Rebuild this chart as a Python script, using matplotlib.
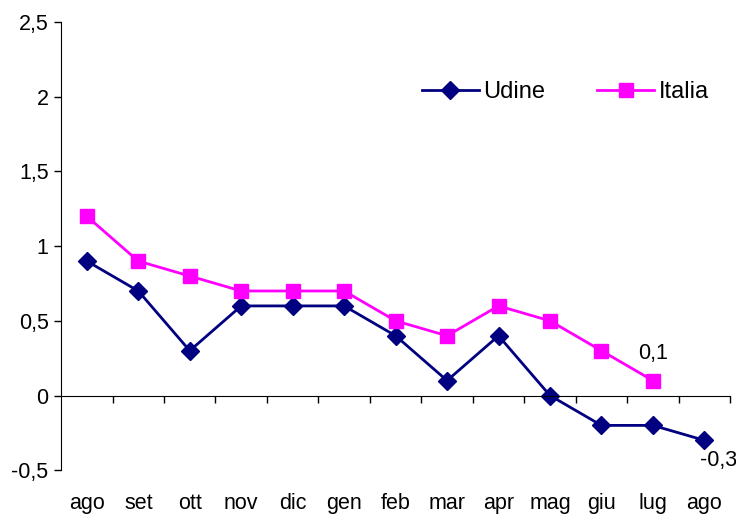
import matplotlib.pyplot as plt
from matplotlib.ticker import FuncFormatter
from matplotlib.transforms import blended_transform_factory

plt.rcParams['font.family'] = ['Liberation Sans', 'DejaVu Sans']

mesi = ['ago', 'set', 'ott', 'nov', 'dic', 'gen', 'feb', 'mar', 'apr', 'mag', 'giu', 'lug', 'ago']
udine = [0.9, 0.7, 0.3, 0.6, 0.6, 0.6, 0.4, 0.1, 0.4, 0.0, -0.2, -0.2, -0.3]
italia = [1.2, 0.9, 0.8, 0.7, 0.7, 0.7, 0.5, 0.4, 0.6, 0.5, 0.3, 0.1]

fig = plt.figure(figsize=(7.36, 5.15), dpi=100)
ax = fig.add_axes([0.083, 0.087, 0.909, 0.870])

x_u = list(range(len(udine)))
x_i = list(range(len(italia)))
ax.plot(x_u, udine, color='#000080', lw=2, marker='D', ms=9, label='Udine')
ax.plot(x_i, italia, color='#FF00FF', lw=2, marker='s', ms=10, label='Italia')

ax.set_xlim(-0.5, len(mesi) - 0.5)
ax.set_ylim(-0.5, 2.5)
ax.set_yticks([-0.5, 0, 0.5, 1, 1.5, 2, 2.5])
ax.yaxis.set_major_formatter(FuncFormatter(lambda v, p: ('%g' % v).replace('.', ',')))
ax.tick_params(axis='y', direction='out', length=5, labelsize=15.5, width=1, pad=4)

for s in ['top', 'right']:
    ax.spines[s].set_visible(False)
ax.spines['bottom'].set_position(('data', 0))
ax.set_xticks([i + 0.5 for i in range(len(mesi))])
ax.set_xticklabels([])
ax.tick_params(axis='x', direction='out', length=5, width=1)

tr = blended_transform_factory(ax.transData, ax.transAxes)
for i, m in enumerate(mesi):
    ax.text(i, -0.052, m, transform=tr, ha='center', va='top', fontsize=15.5)

ax.annotate('0,1', (x_i[-1], italia[-1]), xytext=(0, 12), textcoords='offset points',
            ha='center', va='bottom', fontsize=15.5)
ax.annotate('-0,3', (x_u[-1], udine[-1]), xytext=(10, -7), textcoords='offset points',
            ha='center', va='top', fontsize=15.5)

ax.legend(loc='upper right', bbox_to_anchor=(1.0, 0.915), ncol=2, frameon=False,
          fontsize=17, handlelength=2.4, columnspacing=2.2, handletextpad=0.2)

plt.savefig('out.png')
